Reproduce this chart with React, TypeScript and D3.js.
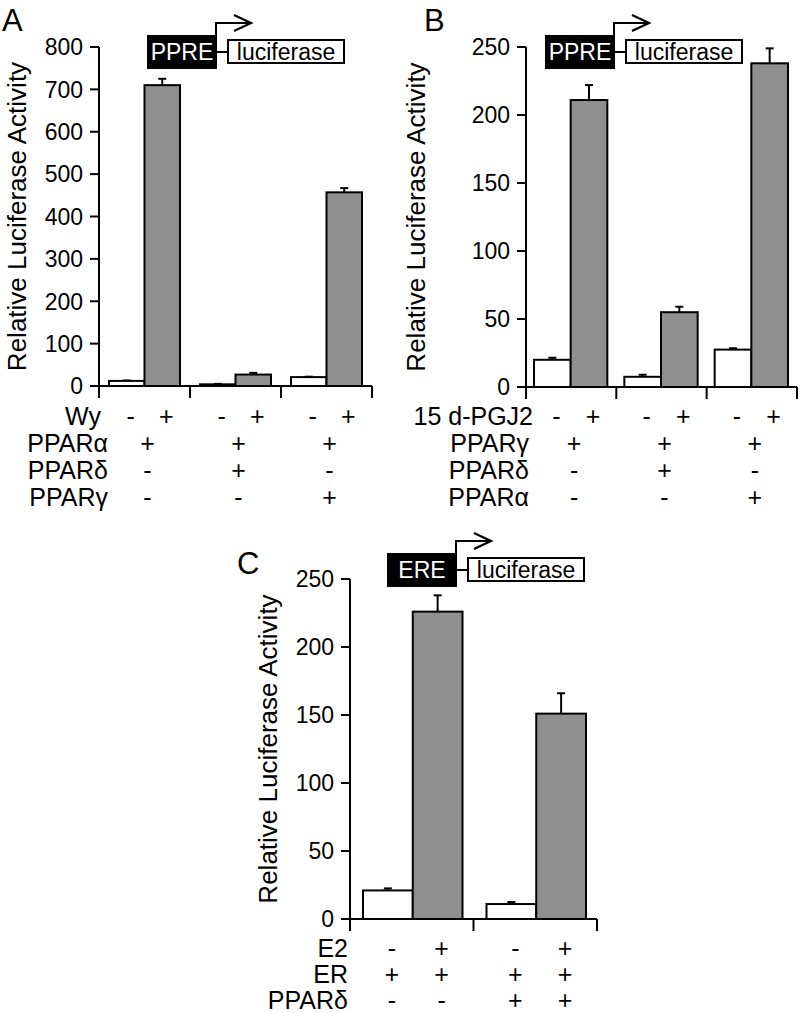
import React from 'react';
import * as d3 from 'd3';

const FONT = '"Liberation Sans", Arial, Helvetica, sans-serif';
const GRAY = '#8f8f8f';

// ---- panel A data
const groupsA = ['g1', 'g2', 'g3'];
const vehicleA = [12, 4, 21];
const vehicleErrA = [1, 1, 1];
const ligandA = [710, 27, 457];
const ligandErrA = [15, 4, 10];
const ticksA = [0, 100, 200, 300, 400, 500, 600, 700, 800];
const rowLabelsA = ['Wy', 'PPARα', 'PPARδ', 'PPARγ'];
const rowSignsA = [
  ['-', '+', '-', '+', '-', '+'],
  ['+', '+', '+'],
  ['-', '+', '-'],
  ['-', '-', '+'],
];

// ---- panel B data
const groupsB = ['g1', 'g2', 'g3'];
const vehicleB = [20, 7.5, 27.5];
const vehicleErrB = [1.5, 1.5, 1];
const ligandB = [211, 55, 238];
const ligandErrB = [11, 4, 11];
const ticksB = [0, 50, 100, 150, 200, 250];
const rowLabelsB = ['15 d-PGJ2', 'PPARγ', 'PPARδ', 'PPARα'];
const rowSignsB = [
  ['-', '+', '-', '+', '-', '+'],
  ['+', '+', '+'],
  ['-', '+', '-'],
  ['-', '-', '+'],
];

// ---- panel C data
const groupsC = ['g1', 'g2'];
const vehicleC = [21, 11];
const vehicleErrC = [1.5, 1.5];
const ligandC = [226, 151];
const ligandErrC = [12, 15];
const ticksC = [0, 50, 100, 150, 200, 250];
const rowLabelsC = ['E2', 'ER', 'PPARδ'];
const rowSignsC = [
  ['-', '+', '-', '+'],
  ['+', '+', '+', '+'],
  ['-', '-', '+', '+'],
];

type PanelProps = {
  letter: string;
  letterX: number;
  letterY: number;
  axisX: number;
  axisEnd: number;
  yTop: number;
  yZero: number;
  max: number;
  ticks: number[];
  groups: string[];
  vehicle: number[];
  vehicleErr: number[];
  ligand: number[];
  ligandErr: number[];
  padL: number;
  padR: number;
  rowLabels: string[];
  rowSigns: string[][];
  rowLabelX: number[];
  rowY0: number;
  rowStep: number;
  yLabelX: number;
  promoter: string;
  boxX: number;
  boxY: number;
};

function Panel(p: PanelProps) {
  const y = d3.scaleLinear().domain([0, p.max]).range([p.yZero, p.yTop]);
  const gx = d3.scaleBand<string>().domain(p.groups).range([p.axisX, p.axisEnd]).padding(0);
  const bw = gx.bandwidth();
  const inner = d3.scaleBand<string>().domain(['veh', 'lig']).range([p.padL, bw - p.padR]).padding(0);
  const barW = inner.bandwidth();

  const bars: { x: number; v: number; e: number; fill: string }[] = [];
  p.groups.forEach((g, i) => {
    bars.push({ x: (gx(g) ?? 0) + (inner('veh') ?? 0), v: p.vehicle[i], e: p.vehicleErr[i], fill: '#fff' });
    bars.push({ x: (gx(g) ?? 0) + (inner('lig') ?? 0), v: p.ligand[i], e: p.ligandErr[i], fill: GRAY });
  });

  const bounds = [...p.groups.map((g) => gx(g) ?? 0), p.axisEnd];
  const bh = 34;
  const blackW = 70;
  const lx = p.boxX + blackW + 11;
  const ax = p.boxX + blackW - 1;

  return (
    <g fontFamily={FONT} fill="#000">
      <text x={p.letterX} y={p.letterY} fontSize={31}>{p.letter}</text>

      {/* promoter construct */}
      <rect x={p.boxX} y={p.boxY} width={blackW} height={bh} fill="#000" />
      <text x={p.boxX + blackW / 2} y={p.boxY + bh / 2} dy="0.36em" textAnchor="middle" fill="#fff" fontSize={23}>
        {p.promoter}
      </text>
      <line x1={p.boxX + blackW} x2={lx} y1={p.boxY + bh / 2} y2={p.boxY + bh / 2} stroke="#000" strokeWidth={2} />
      <rect x={lx} y={p.boxY + 5} width={116} height={23} fill="#fff" stroke="#000" strokeWidth={2} />
      <text x={lx + 58} y={p.boxY + 16.5} dy="0.36em" textAnchor="middle" fontSize={23}>luciferase</text>
      <path d={`M${ax},${p.boxY} V${p.boxY - 12} H${ax + 33}`} fill="none" stroke="#000" strokeWidth={2} />
      <path
        d={`M${ax + 18},${p.boxY - 20} L${ax + 35},${p.boxY - 12} L${ax + 18},${p.boxY - 4}`}
        fill="none"
        stroke="#000"
        strokeWidth={2.2}
      />

      {/* y axis */}
      <line x1={p.axisX} x2={p.axisX} y1={y(0)} y2={y(p.max)} stroke="#000" strokeWidth={2} />
      {p.ticks.map((t) => (
        <g key={t}>
          <line x1={p.axisX - 9} x2={p.axisX} y1={y(t)} y2={y(t)} stroke="#000" strokeWidth={2} />
          <text x={p.axisX - 16} y={y(t)} dy="0.36em" textAnchor="end" fontSize={23}>{t}</text>
        </g>
      ))}
      <text
        transform={`translate(${p.yLabelX},${(y(0) + y(p.max)) / 2}) rotate(-90)`}
        textAnchor="middle"
        dy="0.36em"
        fontSize={26}
      >
        Relative Luciferase Activity
      </text>

      {/* bars */}
      {bars.map((b, i) => (
        <g key={i}>
          <line x1={b.x + barW / 2} x2={b.x + barW / 2} y1={y(b.v)} y2={y(b.v + b.e)} stroke="#000" strokeWidth={2} />
          <line x1={b.x + barW / 2 - 4} x2={b.x + barW / 2 + 4} y1={y(b.v + b.e)} y2={y(b.v + b.e)} stroke="#000" strokeWidth={2} />
          <rect x={b.x} y={y(b.v)} width={barW} height={y(0) - y(b.v)} fill={b.fill} stroke="#000" strokeWidth={2} />
        </g>
      ))}

      {/* x axis */}
      <line x1={p.axisX - 1} x2={p.axisEnd} y1={y(0)} y2={y(0)} stroke="#000" strokeWidth={2} />
      {bounds.map((bx, i) => (
        <line key={i} x1={bx} x2={bx} y1={y(0)} y2={y(0) + 12} stroke="#000" strokeWidth={2} />
      ))}

      {/* condition rows */}
      {p.rowLabels.map((lab, r) => {
        const ry = p.rowY0 + r * p.rowStep;
        const signs = p.rowSigns[r];
        const perBar = signs.length === bars.length;
        return (
          <g key={lab}>
            <text x={p.rowLabelX[r]} y={ry} textAnchor="end" fontSize={25}>{lab}</text>
            {signs.map((s, k) => {
              const cx = perBar
                ? bars[k].x + barW / 2 + 4
                : (gx(p.groups[k]) ?? 0) + bw / 2 + 3;
              return (
                <text key={k} x={cx} y={ry} textAnchor="middle" fontSize={25}>{s}</text>
              );
            })}
          </g>
        );
      })}
    </g>
  );
}

export default function App() {
  return (
    <svg
      width={800}
      height={1013}
      viewBox="0 0 800 1013"
      style={{ position: 'absolute', left: 0, top: 0, background: '#fff' }}
    >
      <rect width={800} height={1013} fill="#fff" />
      <Panel
        letter="A" letterX={2} letterY={31}
        axisX={99} axisEnd={372} yTop={47} yZero={386} max={800} ticks={ticksA}
        groups={groupsA} vehicle={vehicleA} vehicleErr={vehicleErrA} ligand={ligandA} ligandErr={ligandErrA}
        padL={10} padR={10}
        rowLabels={rowLabelsA} rowSigns={rowSignsA} rowLabelX={[101, 108, 108, 108]}
        rowY0={425} rowStep={27}
        yLabelX={17} promoter="PPRE" boxX={147} boxY={35}
      />
      <Panel
        letter="B" letterX={424} letterY={31}
        axisX={526} axisEnd={797} yTop={47} yZero={387} max={250} ticks={ticksB}
        groups={groupsB} vehicle={vehicleB} vehicleErr={vehicleErrB} ligand={ligandB} ligandErr={ligandErrB}
        padL={8} padR={9}
        rowLabels={rowLabelsB} rowSigns={rowSignsB} rowLabelX={[533, 529, 529, 529]}
        rowY0={425} rowStep={27}
        yLabelX={416} promoter="PPRE" boxX={545} boxY={35}
      />
      <Panel
        letter="C" letterX={237} letterY={574}
        axisX={350} axisEnd={597} yTop={579} yZero={919} max={250} ticks={ticksC}
        groups={groupsC} vehicle={vehicleC} vehicleErr={vehicleErrC} ligand={ligandC} ligandErr={ligandErrC}
        padL={13} padR={11}
        rowLabels={rowLabelsC} rowSigns={rowSignsC} rowLabelX={[348, 348, 348]}
        rowY0={957} rowStep={26}
        yLabelX={268} promoter="ERE" boxX={387} boxY={553}
      />
    </svg>
  );
}
